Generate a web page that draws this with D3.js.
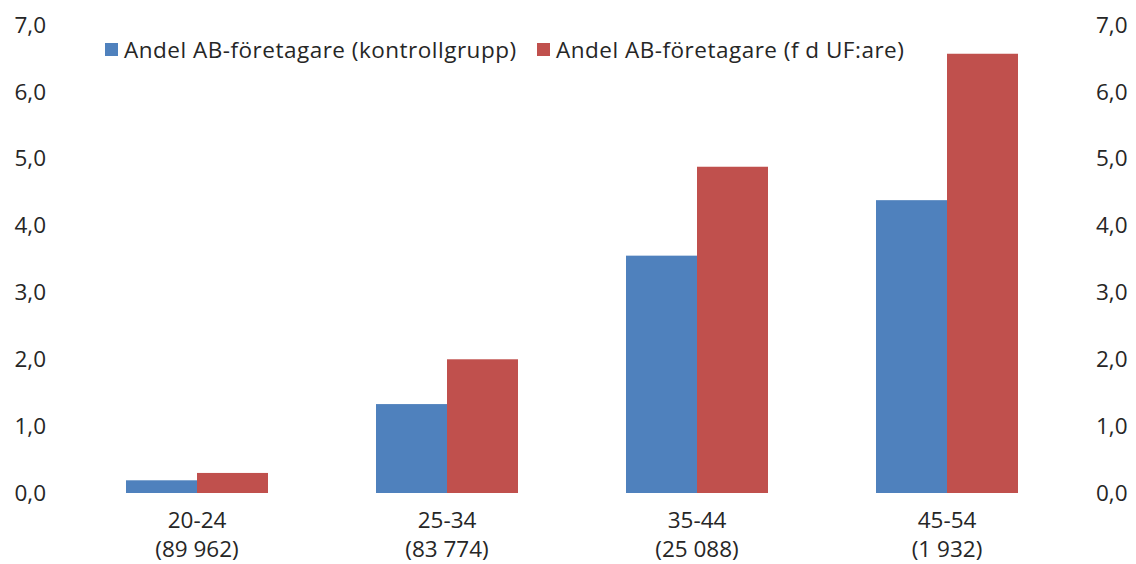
<!DOCTYPE html>
<html><head><meta charset="utf-8">
<script src="https://cdn.jsdelivr.net/npm/d3@7"></script>
<style>body{margin:0;background:#fff}svg{display:block}text{font-family:"Open Sans",sans-serif;fill:#262626}</style>
</head><body><svg id="c" width="1136" height="564"></svg>
<script>
const categories = ["20-24","25-34","35-44","45-54"];
const subLabels = ["(89 962)","(83 774)","(25 088)","(1 932)"];
const seriesNames = ["Andel AB-företagare (kontrollgrupp)","Andel AB-företagare (f d UF:are)"];
const controlValues = [0.19, 1.33, 3.55, 4.38];
const ufValues = [0.30, 2.00, 4.88, 6.57];
const tickValues = [0,1,2,3,4,5,6,7];
const colors = ["#4F81BD","#C0504D"];

const svg = d3.select("#c");
const y = d3.scaleLinear().domain([0,7]).range([493,25]);
const x0 = d3.scaleBand().domain(categories).range([72,1072]).paddingInner(0.432).paddingOuter(0.216);
const x1 = d3.scaleBand().domain([0,1]).range([0,x0.bandwidth()]);
const fmt = v => d3.format(".1f")(v).replace(".",",");
const FS = "22.5px";

const data = categories.map((c,i)=>({c, vals:[controlValues[i], ufValues[i]]}));
const g = svg.append("g");
data.forEach(d=>{
  d.vals.forEach((v,j)=>{
    g.append("rect").attr("x",x0(d.c)+x1(j)).attr("width",x1.bandwidth())
      .attr("y",y(v)).attr("height",y(0)-y(v)).attr("fill",colors[j]);
  });
});

const left = svg.append("g").attr("transform","translate(46,0)")
  .call(d3.axisLeft(y).tickValues(tickValues).tickFormat(fmt).tickSize(0).tickPadding(0));
const right = svg.append("g").attr("transform","translate(1096,0)")
  .call(d3.axisRight(y).tickValues(tickValues).tickFormat(fmt).tickSize(0).tickPadding(0));
[left,right].forEach(a=>{a.select(".domain").remove();a.selectAll("text").style("font-size",FS).attr("fill","#262626").style("font-family","Open Sans");});

const bottom = svg.append("g").attr("transform","translate(0,493)")
  .call(d3.axisBottom(x0).tickSize(0).tickPadding(0).tickFormat(()=>""));
bottom.select(".domain").remove();
bottom.selectAll(".tick").each(function(d,i){
  const t = d3.select(this);
  t.append("text").attr("y",35).attr("text-anchor","middle").style("font-size",FS).attr("fill","#262626").text(d);
  t.append("text").attr("y",64).attr("text-anchor","middle").style("font-size",FS).attr("fill","#262626").text(subLabels[i]);
});

const legX = [105,537];
seriesNames.forEach((n,j)=>{
  svg.append("rect").attr("x",legX[j]).attr("y",43).attr("width",13).attr("height",13).attr("fill",colors[j]);
  svg.append("text").attr("x",legX[j]+19).attr("y",58).style("font-size",FS).style("letter-spacing","0.5px").text(n);
});
</script></body></html>
